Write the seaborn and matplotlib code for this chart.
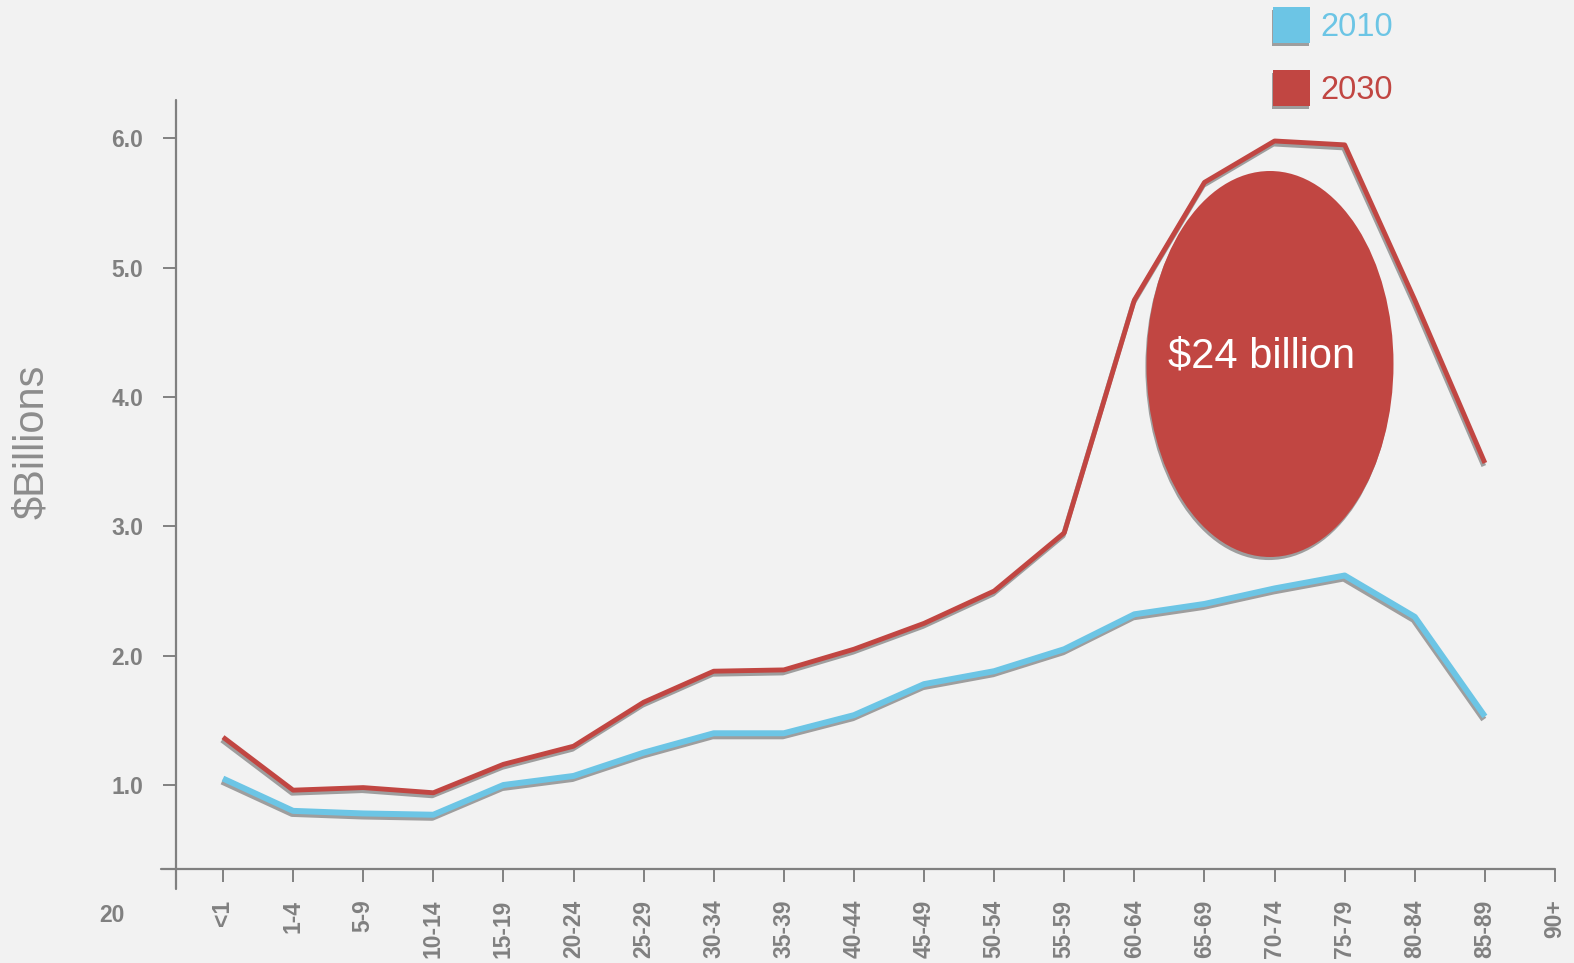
import numpy as np
import pandas as pd
import seaborn as sns
import matplotlib
matplotlib.use("Agg")
import matplotlib.pyplot as plt
import matplotlib.patheffects as pe
from matplotlib.patches import Ellipse, Patch
from matplotlib.lines import Line2D

# ---------------- data ----------------
age_groups = ["<1", "1-4", "5-9", "10-14", "15-19", "20-24", "25-29", "30-34", "35-39",
              "40-44", "45-49", "50-54", "55-59", "60-64", "65-69", "70-74", "75-79",
              "80-84", "85-89", "90+"]
spend_2010 = [1.05, 0.80, 0.78, 0.77, 1.00, 1.07, 1.25, 1.40, 1.40, 1.54, 1.78, 1.88,
              2.05, 2.32, 2.40, 2.52, 2.62, 2.30, 1.53]
spend_2030 = [1.37, 0.96, 0.98, 0.94, 1.16, 1.30, 1.64, 1.88, 1.89, 2.05, 2.25, 2.50,
              2.95, 4.75, 5.66, 5.98, 5.95, 4.75, 3.49]
series_names = ["2010", "2030"]
callout_text = "$24 billion"
stray_label = "20"
y_ticks = [1.0, 2.0, 3.0, 4.0, 5.0, 6.0]

# ---------------- style ----------------
BG = "#F2F2F2"
GRAY = "#808080"
BLUE = "#6CC5E5"
RED = "#C14642"

sns.set_theme(style="white", rc={"axes.facecolor": BG, "figure.facecolor": BG})
plt.rcParams["font.family"] = ["Liberation Sans", "DejaVu Sans"]

fig = plt.figure(figsize=(15.74, 9.63), dpi=100)
W, H = 1574, 963
ax_left, ax_right, ax_top, ax_bottom = 176, 1555, 100, 869
ax = fig.add_axes([ax_left / W, 1 - ax_bottom / H, (ax_right - ax_left) / W, (ax_bottom - ax_top) / H])
ax.set_facecolor(BG)

df = pd.DataFrame({
    "idx": list(range(len(spend_2010))) * 2,
    "value": spend_2010 + spend_2030,
    "year": [series_names[0]] * len(spend_2010) + [series_names[1]] * len(spend_2030),
})

def shadow():
    return [pe.SimpleLineShadow(offset=(-0.8, -2.2), shadow_color="#5a5a5a", alpha=0.55), pe.Normal()]

sns.lineplot(data=df[df.year == "2010"], x="idx", y="value", color=BLUE, linewidth=4.3,
             ax=ax, legend=False, sort=False)
sns.lineplot(data=df[df.year == "2030"], x="idx", y="value", color=RED, linewidth=3.5,
             ax=ax, legend=False, sort=False)
for ln in ax.get_lines():
    ln.set_path_effects(shadow())
    ln.set_solid_joinstyle("round")
    ln.set_solid_capstyle("butt")

# axis limits (category index 0 at px 223, last tick at right edge; y ~129.3 px per unit)
x0_px = 223
px_per_x = (ax_right - x0_px) / 19
y6_px, y1_px = 138.4, 785.0
px_per_y = (y1_px - y6_px) / 5
ax.set_xlim(-(x0_px - ax_left) / px_per_x, 19)
ax.set_ylim(6 - (ax_bottom - y6_px) / px_per_y, 6 + (y6_px - ax_top) / px_per_y)

# callout ellipse
ell = Ellipse(((1270 - x0_px) / px_per_x, 6 - (364 - y6_px) / px_per_y),
              width=247 / px_per_x, height=386 / px_per_y, facecolor=RED,
              edgecolor="none", zorder=3,
              path_effects=[pe.SimplePatchShadow(offset=(-0.8, -2.2), shadow_rgbFace="#5a5a5a", alpha=0.55),
                            pe.Normal()])
ax.add_patch(ell)
ax.text((1262 - x0_px) / px_per_x, 6 - (367 - y6_px) / px_per_y, callout_text, color="white",
        fontsize=30, ha="center", va="baseline", zorder=4)

# spines drawn as crossing lines
for s in ax.spines.values():
    s.set_visible(False)
ax.add_line(Line2D([0, 0], [-20 / (ax_bottom - ax_top), 1], transform=ax.transAxes,
                   color=GRAY, linewidth=1.6, clip_on=False))
ax.add_line(Line2D([-15 / (ax_right - ax_left), 1], [0, 0], transform=ax.transAxes,
                   color=GRAY, linewidth=1.6, clip_on=False))

ax.set_xticks(range(len(age_groups)))
ax.set_xticklabels(age_groups, rotation=90, ha="center", va="top")
ax.set_yticks(y_ticks)
ax.set_yticklabels([f"{v:.1f}" for v in y_ticks])
ax.tick_params(axis="x", direction="out", length=9, width=1.4, color=GRAY, pad=13,
               labelsize=16.5, labelcolor=GRAY, bottom=True)
ax.tick_params(axis="y", direction="out", length=9.5, width=1.4, color=GRAY, pad=14,
               labelsize=16.5, labelcolor=GRAY, left=True)
for t in ax.get_xticklabels() + ax.get_yticklabels():
    t.set_fontweight("bold")
ax.set_xlabel("")
ax.set_ylabel("")
ax.grid(False)

fig.text(32 / W, 1 - 442 / H, "$Billions", rotation=90, fontsize=30, color="#8C8C8C",
         ha="center", va="center")
fig.text(112 / W, 1 - 915 / H, stray_label, fontsize=16.5, color=GRAY, fontweight="bold",
         ha="center", va="center")

# legend
handles = [Patch(facecolor=c, edgecolor="none",
                 path_effects=[pe.SimplePatchShadow(offset=(-0.8, -2.2), shadow_rgbFace="#5a5a5a", alpha=0.55),
                               pe.Normal()])
           for c in (BLUE, RED)]
leg = fig.legend(handles, series_names, loc="upper left", bbox_to_anchor=(1273 / W, 1 - 7 / H),
                 frameon=False, fontsize=23.5, handlelength=1.14, handleheight=1.3,
                 labelspacing=0.84, handletextpad=0.32, borderpad=0, borderaxespad=0)
for txt, c in zip(leg.get_texts(), (BLUE, RED)):
    txt.set_color(c)

fig.savefig("out.png", dpi=100, facecolor=BG)
